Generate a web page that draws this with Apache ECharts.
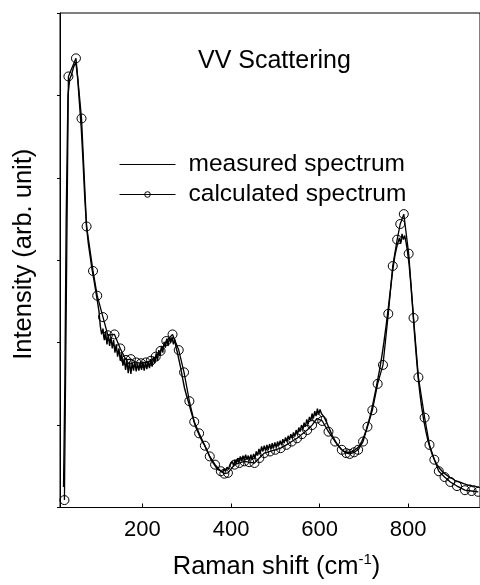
<!DOCTYPE html>
<html><head><meta charset="utf-8">
<script src="https://cdn.jsdelivr.net/npm/echarts@6/dist/echarts.min.js"></script>
<style>html,body{margin:0;padding:0;background:#fff}#c{width:480px;height:585px}</style>
</head><body><div id="c"></div>
<script>
var titleText = 'VV Scattering';
var seriesNames = ['measured spectrum', 'calculated spectrum'];
var xTicks = [200, 400, 600, 800];

var measX = [22,25,28,32,36,40,45,50,54,58,62,66,70,74,78,82,86,90,94,98,102,105,108,111,114,117,120,123,126,129,132,135,138,141,144,147,150,153,156,159,162,165,168,171,174,177,180,183,186,189,192,195,198,201,204,207,210,213,216,219,222,225,228,231,234,237,240,243,246,249,252,255,258,261,264,267,270,273,276,279,283,287,291,295,300,305,310,315,320,325,330,335,340,345,350,355,360,365,370,375,380,385,388,391,394,397,400,403,406,409,412,415,418,421,424,427,430,433,436,439,442,445,448,451,454,457,460,463,466,469,472,475,478,481,484,487,490,493,496,499,502,505,508,511,514,517,520,523,526,529,532,535,538,541,544,547,550,553,556,559,562,565,568,571,574,577,580,583,586,589,592,595,598,601,604,607,610,613,616,620,624,628,632,636,640,645,650,655,660,665,670,675,680,685,690,695,700,705,710,715,720,725,730,735,740,745,750,755,760,765,770,775,780,783,786,789,792,795,798,802,806,810,814,818,822,826,830,835,840,845,850,855,860,865,870,875,880,885,890,895,900,905,910,915,920,925,930,935,940,945,950,955,960];
var measY = [0.25,1.5,3.5,5.0,5.2,5.25,5.35,5.40,5.2,4.9,4.6,4.2,3.75,3.4,3.2,3.05,2.9,2.78,2.65,2.52,2.38,2.2,2.1,2.17,2.03,2.13,1.98,2.1,1.96,2.07,1.93,2.03,1.88,1.98,1.83,1.93,1.78,1.87,1.72,1.81,1.67,1.79,1.63,1.77,1.62,1.76,1.66,1.77,1.65,1.75,1.66,1.76,1.67,1.77,1.66,1.77,1.68,1.78,1.69,1.8,1.71,1.83,1.75,1.87,1.78,1.91,1.84,1.96,1.88,2.01,1.94,2.05,1.96,2.07,2.0,2.07,1.98,2.04,1.94,1.88,1.78,1.68,1.56,1.45,1.35,1.26,1.16,1.07,0.98,0.92,0.86,0.80,0.76,0.70,0.64,0.58,0.54,0.5,0.46,0.45,0.43,0.47,0.44,0.49,0.46,0.51,0.49,0.56,0.50,0.58,0.53,0.60,0.55,0.62,0.56,0.63,0.57,0.64,0.58,0.63,0.57,0.64,0.58,0.65,0.60,0.68,0.63,0.71,0.66,0.74,0.68,0.75,0.69,0.76,0.70,0.77,0.71,0.78,0.72,0.79,0.73,0.80,0.75,0.81,0.76,0.83,0.78,0.85,0.80,0.87,0.82,0.89,0.84,0.91,0.86,0.94,0.89,0.97,0.92,1.0,0.95,1.03,0.98,1.07,1.01,1.1,1.05,1.14,1.08,1.17,1.11,1.2,1.13,1.19,1.14,1.16,1.1,1.1,1.03,0.98,0.93,0.88,0.84,0.80,0.76,0.73,0.70,0.68,0.67,0.67,0.67,0.68,0.70,0.72,0.75,0.8,0.86,0.94,1.03,1.13,1.25,1.38,1.52,1.66,1.82,2.0,2.2,2.42,2.65,2.88,3.06,3.18,3.27,3.2,3.32,3.25,3.3,3.22,3.12,2.95,2.7,2.42,2.12,1.85,1.6,1.4,1.23,1.06,0.92,0.8,0.71,0.63,0.57,0.52,0.48,0.45,0.42,0.4,0.38,0.36,0.35,0.33,0.32,0.31,0.3,0.29,0.28,0.27,0.27,0.26,0.26,0.25,0.25];

var calcX = [24,33,50,62.6,74,88.5,98,111,122,137,150,163,174,186,197,208,219,230,241,254,268,282,294,306,317,328,341,352,364,377,385,393,408,419,430,441,453,464,475,488,500,512,525,537,549,560,572,583,594,606,620,635,650,660,668,678,687,698,708,719,731,743,755,765,775,782,790,801,812,823,837,848,859,869,882,895,910,928,943,958];
var calcY = [0.09,5.23,5.45,4.72,3.41,2.87,2.57,2.31,2.09,2.10,1.93,1.79,1.80,1.76,1.75,1.76,1.78,1.83,1.90,2.02,2.10,1.91,1.64,1.29,1.04,0.90,0.75,0.62,0.52,0.44,0.41,0.42,0.52,0.54,0.56,0.55,0.54,0.60,0.66,0.68,0.70,0.72,0.76,0.80,0.84,0.89,0.94,1.00,1.08,1.05,0.92,0.80,0.70,0.66,0.65,0.67,0.70,0.80,0.98,1.18,1.50,1.73,2.35,2.93,3.25,3.44,3.56,3.08,2.30,1.58,1.09,0.76,0.58,0.44,0.37,0.31,0.26,0.21,0.20,0.19];

function zip(a, b) { return a.map(function (v, i) { return [v, b[i]]; }); }

var FONT = 'Liberation Sans';
var chart = echarts.init(document.getElementById('c'), null, {renderer: 'canvas'});
chart.setOption({
  animation: false,
  backgroundColor: '#fff',
  title: {
    text: titleText, left: 193, top: 44,
    textStyle: {fontFamily: FONT, fontSize: 25, fontWeight: 'normal', color: '#000'}
  },
  legend: {
    orient: 'vertical', left: 114, top: 147, itemWidth: 56, itemHeight: 7, itemGap: 5,
    textStyle: {fontFamily: FONT, fontSize: 24.5, color: '#000', padding: [0, 0, 0, 8]},
    lineStyle: {width: 1},
    data: [
      {name: seriesNames[0], itemStyle: {opacity: 0}},
      {name: seriesNames[1], itemStyle: {borderWidth: 1}}
    ]
  },
  grid: {left: 60, top: 13, right: -5, bottom: 77, show: true, borderColor: '#000', borderWidth: 1},
  xAxis: {
    type: 'value', min: 14, max: 962,
    name: '{a|Raman shift (cm}{s|-1}{a|)}', nameLocation: 'middle', nameGap: 45,
    nameTextStyle: {
      padding: [0, 0, 0, 13],
      rich: {
        a: {fontFamily: FONT, fontSize: 25.5, color: '#000'},
        s: {fontFamily: FONT, fontSize: 15, color: '#000', padding: [0, 0, 14, 0]}
      }
    },
    splitLine: {show: false},
    axisLine: {lineStyle: {color: '#000', width: 1}},
    axisTick: {inside: true, length: 4, customValues: xTicks, lineStyle: {color: '#000'}},
    axisLabel: {customValues: xTicks, margin: 11, fontFamily: FONT, fontSize: 22, color: '#000'}
  },
  yAxis: {
    type: 'value', min: 0, max: 6, interval: 1,
    name: 'Intensity (arb. unit)', nameLocation: 'middle', nameGap: 23,
    nameTextStyle: {fontFamily: FONT, fontSize: 25.5, color: '#000', padding: [0, 0, 0, 12]},
    splitLine: {show: false},
    axisLine: {lineStyle: {color: '#000', width: 1}},
    axisTick: {inside: false, length: 3, lineStyle: {color: '#000'}},
    axisLabel: {show: false}
  },
  series: [
    {
      name: seriesNames[0], type: 'line', data: zip(measX, measY),
      showSymbol: false, symbol: 'none',
      lineStyle: {color: '#000', width: 1.4}, itemStyle: {color: '#000'}, z: 2
    },
    {
      name: seriesNames[1], type: 'line', data: zip(calcX, calcY),
      symbol: 'circle', symbolSize: 9, showAllSymbol: true,
      lineStyle: {color: '#000', width: 1.3},
      itemStyle: {color: 'rgba(255,255,255,0)', borderColor: '#000', borderWidth: 1}, z: 3
    }
  ]
});
</script>
</body></html>
